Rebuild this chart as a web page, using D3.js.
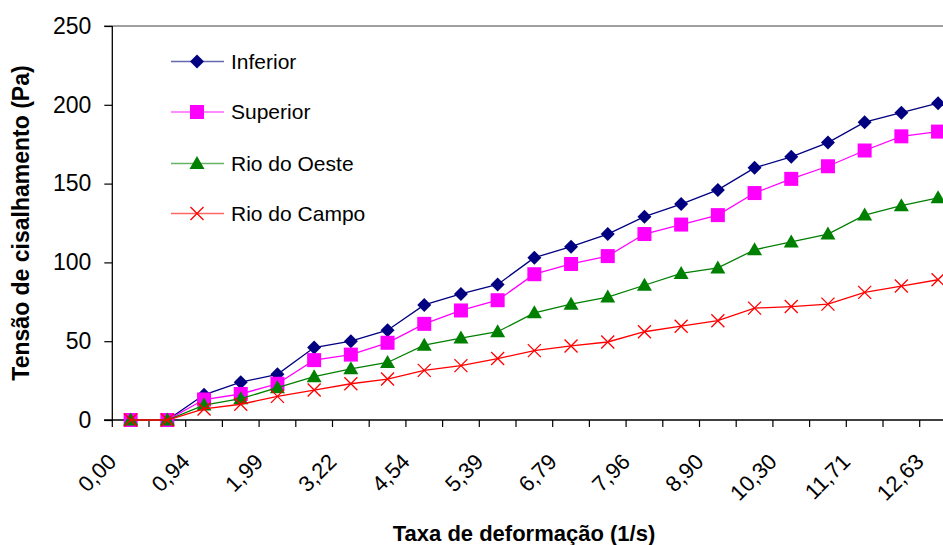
<!DOCTYPE html>
<html>
<head>
<meta charset="utf-8">
<script src="https://cdn.jsdelivr.net/npm/d3@7"></script>
<style>
  html, body { margin: 0; padding: 0; background: #fff; overflow: hidden; }
  svg { display: block; font-family: "Liberation Sans", Arial, sans-serif; }
</style>
</head>
<body>
<svg id="chart" width="943" height="545"></svg>
<script>
// Shear rate categories (only every second one is labelled on the axis)
const categories = ["0,00","0,47","0,94","1,47","1,99","2,61","3,22","3,88","4,54","4,97","5,39","6,09",
                    "6,79","7,38","7,96","8,43","8,90","9,60","10,30","11,00","11,71","12,17","12,63"];
const inferior    = [0,0,16,24,29,46,50,57,73,80,86,103,110,118,129,137,146,160,167,176,189,195,201];
const superior    = [0,0,13,16.5,23,38,41.5,49,61,69.5,76,92.5,99,104,118,124,130,144,153,161,171,180,183];
const rioDoOeste  = [0,0,9.5,13.5,20.5,27.5,32.5,36.5,47.5,52,56,68,73.5,78,85.5,93,96.5,108,113,118,130,136,141];
const rioDoCampo  = [0,0,7,10,15,19,23,26,31.5,34.5,39,44,47,49.5,56,59.5,63,71,72,73.5,81,85,89];
const yTicks = [0,50,100,150,200,250];
const seriesNames = ["Inferior","Superior","Rio do Oeste","Rio do Campo"];

const series = [
  {name: seriesNames[0], values: inferior,   color: "#000080", symbol: "diamond"},
  {name: seriesNames[1], values: superior,   color: "#FF00FF", symbol: "square"},
  {name: seriesNames[2], values: rioDoOeste, color: "#008000", symbol: "triangle"},
  {name: seriesNames[3], values: rioDoCampo, color: "#FF0000", symbol: "cross"}
];

const svg = d3.select("#chart");
const plot = {left: 112.3, top: 26, bottom: 420, step: 36.7};
plot.right = plot.left + plot.step * categories.length;

const x = d3.scaleBand().domain(categories).range([plot.left, plot.right]).paddingInner(0).paddingOuter(0);
const y = d3.scaleLinear().domain([0, 250]).range([plot.bottom, plot.top]);
const cx = c => x(c) + x.bandwidth() / 2;

// top border of plot area
svg.append("line")
  .attr("x1", 104).attr("x2", 943).attr("y1", plot.top).attr("y2", plot.top)
  .attr("stroke", "#808080").attr("stroke-width", 1.4);

// Y axis
const yAxis = svg.append("g").attr("transform", `translate(${plot.left},0)`)
  .call(d3.axisLeft(y).tickValues(yTicks).tickSize(8).tickPadding(13).tickFormat(d3.format("d")));
yAxis.select(".domain").attr("stroke", "#000").attr("stroke-width", 1.3).attr("d", `M0,${plot.top}V${plot.bottom}`);
yAxis.selectAll(".tick line").attr("stroke", "#000").attr("stroke-width", 1.2);
yAxis.selectAll(".tick text").attr("font-size", 23).attr("fill", "#000")
  .attr("font-family", "'Liberation Sans', Arial, sans-serif");

// X axis: ticks at category boundaries
const boundaries = d3.range(categories.length + 1).map(i => plot.left + i * plot.step);
const xg = svg.append("g");
xg.append("line").attr("x1", 104).attr("x2", plot.right).attr("y1", plot.bottom).attr("y2", plot.bottom)
  .attr("stroke", "#000").attr("stroke-width", 1.3);
xg.selectAll("line.tk").data(boundaries).enter().append("line").attr("class", "tk")
  .attr("x1", d => d).attr("x2", d => d).attr("y1", plot.bottom).attr("y2", plot.bottom + 7)
  .attr("stroke", "#000").attr("stroke-width", 1.2);
xg.selectAll("text").data(categories.filter((c, i) => i % 2 === 0)).enter().append("text")
  .attr("transform", d => `translate(${cx(d) - 13},${plot.bottom + 43}) rotate(-45)`)
  .attr("text-anchor", "end")
  .attr("font-size", 22).attr("fill", "#000")
  .text(d => d);

// axis titles
svg.append("text")
  .attr("transform", `translate(29,${(plot.top + plot.bottom) / 2}) rotate(-90)`)
  .attr("text-anchor", "middle").attr("font-weight", "bold").attr("font-size", 23)
  .text("Tensão de cisalhamento (Pa)");
svg.append("text")
  .attr("x", 524).attr("y", 541)
  .attr("text-anchor", "middle").attr("font-weight", "bold").attr("font-size", 22)
  .text("Taxa de deformação (1/s)");

// markers
function drawMarker(g, type, color) {
  if (type === "diamond") {
    g.append("path").attr("d", "M0,-7L7,0L0,7L-7,0Z").attr("fill", color);
  } else if (type === "square") {
    g.append("rect").attr("x", -7).attr("y", -7).attr("width", 14).attr("height", 14).attr("fill", color);
  } else if (type === "triangle") {
    g.append("path").attr("d", "M0,-7.5L7.5,5.5L-7.5,5.5Z").attr("fill", color);
  } else if (type === "cross") {
    g.append("path").attr("d", "M-6.5,-6.5L6.5,6.5M-6.5,6.5L6.5,-6.5").attr("stroke", color).attr("stroke-width", 1.3).attr("fill", "none");
  }
}

const line = d3.line().x((d, i) => cx(categories[i])).y(d => y(d));
series.forEach(s => {
  svg.append("path").datum(s.values).attr("d", line)
    .attr("fill", "none").attr("stroke", s.color).attr("stroke-width", 1.3);
  const g = svg.append("g");
  s.values.forEach((v, i) => {
    const m = g.append("g").attr("transform", `translate(${cx(categories[i])},${y(v)})`);
    drawMarker(m, s.symbol, s.color);
  });
});

// legend
const legendRows = [61.5, 112, 163.5, 213.5];
series.forEach((s, i) => {
  const g = svg.append("g").attr("transform", `translate(0,${legendRows[i]})`);
  g.append("line").attr("x1", 171).attr("x2", 224).attr("y1", 0).attr("y2", 0)
    .attr("stroke", s.color).attr("stroke-width", 1.3).attr("stroke-opacity", 0.6);
  const m = g.append("g").attr("transform", "translate(197,0)");
  drawMarker(m, s.symbol, s.color);
  g.append("text").attr("x", 231).attr("y", 0).attr("dy", "0.35em")
    .attr("font-size", 21).attr("fill", "#000").text(s.name);
});
</script>
</body>
</html>
